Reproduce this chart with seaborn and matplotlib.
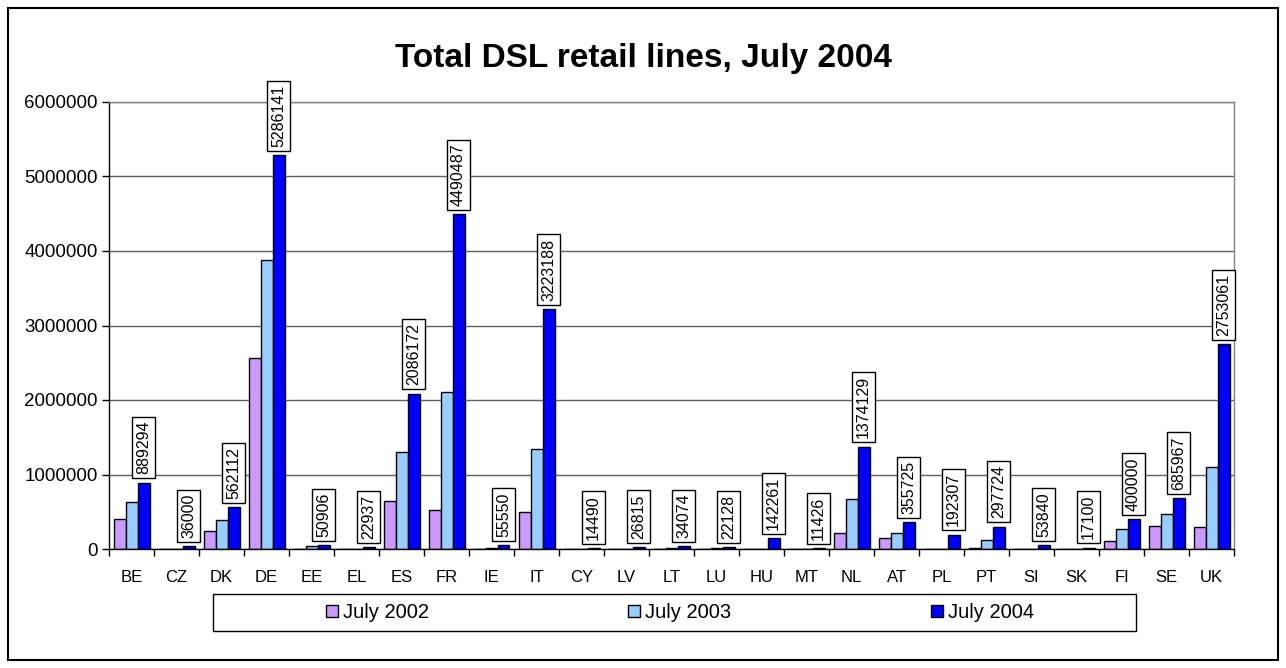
import numpy as np
import pandas as pd
import matplotlib
matplotlib.use("Agg")
import matplotlib.pyplot as plt
import matplotlib.ticker as mticker
from matplotlib.patches import Rectangle
import seaborn as sns

countries = ["BE", "CZ", "DK", "DE", "EE", "EL", "ES", "FR", "IE", "IT", "CY", "LV", "LT",
             "LU", "HU", "MT", "NL", "AT", "PL", "PT", "SI", "SK", "FI", "SE", "UK"]
july_2002 = [403000, 0, 235000, 2570000, 0, 0, 642000, 528000, 0, 498000, 0, 0, 0,
             0, 0, 0, 221000, 142000, 0, 13000, 0, 0, 110000, 306000, 300000]
july_2003 = [625000, 0, 390000, 3880000, 38000, 0, 1305000, 2107000, 8000, 1340000, 0, 0, 9000,
             7000, 0, 0, 673000, 221000, 0, 119000, 0, 0, 269000, 471000, 1104000]
july_2004 = [889294, 36000, 562112, 5286141, 50906, 22937, 2086172, 4490487, 55550, 3223188,
             14490, 26815, 34074, 22128, 142261, 11426, 1374129, 355725, 192307, 297724,
             53840, 17100, 400000, 685967, 2753061]
series_names = ["July 2002", "July 2003", "July 2004"]
colors = ["#CC99FF", "#99CCFF", "#0000FF"]
y_ticks = [0, 1000000, 2000000, 3000000, 4000000, 5000000, 6000000]
title = "Total DSL retail lines, July 2004"

df = pd.DataFrame({
    "country": countries * 3,
    "series": sum([[s] * len(countries) for s in series_names], []),
    "value": july_2002 + july_2003 + july_2004,
})

sns.set_style("white")
plt.rcParams["font.family"] = ["Liberation Sans", "DejaVu Sans"]
plt.rcParams["text.color"] = "black"
plt.rcParams["xtick.color"] = "black"
plt.rcParams["ytick.color"] = "black"
plt.rcParams["xtick.labelcolor"] = "black"
plt.rcParams["ytick.labelcolor"] = "black"

W, H = 1286, 668
fig = plt.figure(figsize=(W / 100, H / 100), dpi=100)
ax = fig.add_axes([109 / W, 1 - 549 / H, (1234 - 109) / W, (549 - 102) / H])

sns.barplot(data=df, x="country", y="value", hue="series", palette=colors,
            order=countries, hue_order=series_names, edgecolor="black",
            linewidth=1, width=0.8, saturation=1, ax=ax, errorbar=None, legend=True)

ax.set_ylim(0, 6000000)
ax.set_xlim(-0.5, len(countries) - 0.5)
ax.set_yticks(y_ticks)
ax.yaxis.set_major_formatter(mticker.StrMethodFormatter("{x:.0f}"))
ax.grid(axis="y", color="#606060", linewidth=1)
ax.set_axisbelow(True)
ax.set_xlabel("")
ax.set_ylabel("")
ax.tick_params(axis="y", labelsize=13.5, length=5, width=1, color="black",
               labelcolor="black", pad=3, left=True)
ax.tick_params(axis="x", which="major", labelsize=12, length=0, pad=15, labelcolor="black")
ax.set_xticks(np.arange(-0.5, len(countries), 1), minor=True)
ax.tick_params(axis="x", which="minor", length=5, width=1, color="black", bottom=True)
for side in ["left", "bottom"]:
    ax.spines[side].set_color("black")
    ax.spines[side].set_linewidth(1)
for side in ["top", "right"]:
    ax.spines[side].set_color("#808080")
    ax.spines[side].set_linewidth(1)

# data labels on July 2004 bars
for patch, val in zip(ax.containers[2].patches, july_2004):
    xc = patch.get_x() + patch.get_width() / 2
    ax.annotate(f"{val}", xy=(xc, patch.get_height()), xytext=(0, 6),
                textcoords="offset points", rotation=90, ha="center", va="bottom",
                fontsize=11.5, color="black",
                bbox=dict(boxstyle="square,pad=0.25", facecolor="white",
                          edgecolor="black", linewidth=1))

fig.text(0.5, 1 - 58 / H, title, ha="center", va="center", fontsize=24,
         fontweight="bold", color="black")

# legend
handles, labels = ax.get_legend_handles_labels()
ax.get_legend().remove()
fig.legend(handles, labels, loc="center", ncol=3,
           bbox_to_anchor=(680 / W, 1 - 612.5 / H), bbox_transform=fig.transFigure,
           frameon=False, fontsize=14.5, handlelength=0.6, handleheight=0.6,
           handletextpad=0.25, columnspacing=9.9, borderaxespad=0, labelcolor="black")
fig.patches.append(Rectangle((213 / W, 1 - 631 / H), (1136 - 213) / W, 37 / H,
                             transform=fig.transFigure, fill=False,
                             edgecolor="black", linewidth=1))
# outer border
fig.patches.append(Rectangle((8 / W, 1 - 660 / H), (1278 - 8) / W, (660 - 8) / H,
                             transform=fig.transFigure, fill=False,
                             edgecolor="black", linewidth=1.5))

fig.savefig("out.png", dpi=100)
